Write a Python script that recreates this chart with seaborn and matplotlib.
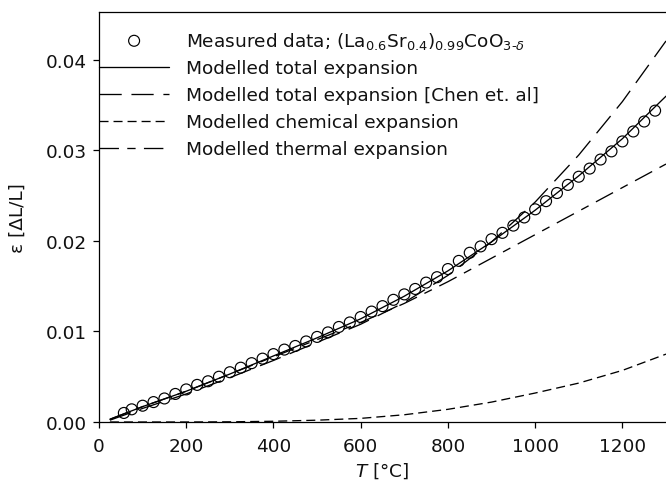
import matplotlib
matplotlib.use("Agg")
import matplotlib.pyplot as plt
import seaborn as sns
import pandas as pd

# ---------------- data ----------------
T_meas = [57, 75, 100, 125, 150, 175, 200, 225, 250, 275, 300, 325, 350, 375, 400,
          425, 450, 475, 500, 525, 550, 575, 600, 625, 650, 675, 700, 725, 750, 775,
          800, 825, 850, 875, 900, 925, 950, 975, 1000, 1025, 1050, 1075, 1100, 1125,
          1150, 1175, 1200, 1225, 1250, 1275]
eps_meas = [0.0010, 0.0014, 0.0018, 0.0022, 0.0026, 0.0031, 0.0036, 0.0041, 0.0045, 0.0050,
            0.0055, 0.0060, 0.0065, 0.0070, 0.0075, 0.0080, 0.0084, 0.0089, 0.0094, 0.0099,
            0.0105, 0.0110, 0.0116, 0.0122, 0.0128, 0.0135, 0.0141, 0.0147, 0.0154, 0.0160,
            0.0169, 0.0178, 0.0187, 0.0194, 0.0202, 0.0209, 0.0217, 0.0226, 0.0235, 0.0244,
            0.0253, 0.0262, 0.0271, 0.0280, 0.0290, 0.0299, 0.0310, 0.0321, 0.0332, 0.0344]

T_model = [25, 100, 200, 300, 400, 500, 600, 700, 800, 900, 1000, 1100, 1200, 1300]
eps_total = [0.0003, 0.0017, 0.0034, 0.0053, 0.0073, 0.0093, 0.0114, 0.0139, 0.0167,
             0.0199, 0.0234, 0.0272, 0.0313, 0.0360]
eps_chen = [0.0002, 0.0015, 0.0031, 0.0049, 0.0068, 0.0088, 0.0108, 0.0132, 0.0162,
            0.0199, 0.0243, 0.0295, 0.0354, 0.0421]
eps_chem = [0.0, 0.0, 0.0, 0.00002, 0.00008, 0.0002, 0.0004, 0.0008, 0.0014,
            0.0022, 0.0032, 0.0043, 0.0057, 0.0075]
eps_therm = [0.0003, 0.0017, 0.0034, 0.0053, 0.0072, 0.0091, 0.0110, 0.0131, 0.0155,
             0.0181, 0.0207, 0.0233, 0.0259, 0.0285]

labels = [r"Measured data; (La$_{0.6}$Sr$_{0.4}$)$_{0.99}$CoO$_{3\text{-}\delta}$",
          "Modelled total expansion",
          "Modelled total expansion [Chen et. al]",
          "Modelled chemical expansion",
          "Modelled thermal expansion"]
x_ticks = [0, 200, 400, 600, 800, 1000, 1200]
y_ticks = [0.00, 0.01, 0.02, 0.03, 0.04]

# ---------------- style ----------------
sns.set_style("ticks")
plt.rcParams['font.family'] = ['DejaVu Sans']
plt.rcParams['mathtext.fontset'] = 'dejavusans'
plt.rcParams['lines.scale_dashes'] = False
plt.rcParams['text.color'] = '#111111'
plt.rcParams['axes.labelcolor'] = '#111111'
FS = 13.3

fig = plt.figure(figsize=(6.66, 4.81), dpi=100)
ax = fig.add_axes([99 / 666, 58 / 481, 567 / 666, 410 / 481])

df_meas = pd.DataFrame({"T": T_meas, "eps": eps_meas})
df_mod = pd.DataFrame({"T": T_model, "total": eps_total, "chen": eps_chen,
                       "chem": eps_chem, "therm": eps_therm})

lw = 0.95
sns.scatterplot(data=df_meas, x="T", y="eps", ax=ax, marker="o", s=62,
                facecolor="none", edgecolor="black", linewidth=0.85,
                label=labels[0], zorder=3)
sns.lineplot(data=df_mod, x="T", y="total", ax=ax, color="black", lw=lw,
             label=labels[1])
sns.lineplot(data=df_mod, x="T", y="chen", ax=ax, color="black", lw=lw,
             linestyle=(0, (16, 7)), label=labels[2])
sns.lineplot(data=df_mod, x="T", y="chem", ax=ax, color="black", lw=lw,
             linestyle=(0, (6.5, 3.6)), label=labels[3])
sns.lineplot(data=df_mod, x="T", y="therm", ax=ax, color="black", lw=lw,
             linestyle=(0, (14, 6, 6, 6)), label=labels[4])

ax.set_xlim(0, 1300)
ax.set_ylim(0, 0.0453)
ax.set_xticks(x_ticks)
ax.set_yticks(y_ticks)
ax.set_yticklabels([f"{v:.2f}" for v in y_ticks])
ax.tick_params(axis="both", direction="out", length=4.5, width=0.9,
               labelsize=FS, colors="black", labelcolor="#111111")
ax.tick_params(axis="y", pad=4)
ax.tick_params(axis="x", pad=6)
for side in ["left", "bottom", "top"]:
    ax.spines[side].set_linewidth(0.9)
    ax.spines[side].set_color("black")
ax.spines["right"].set_visible(False)

ax.set_xlabel(r"$\mathit{T}$ [°C]", fontsize=FS, labelpad=4)
ax.set_ylabel("ε [ΔL/L]", fontsize=FS, labelpad=14)

leg = ax.legend(loc="upper left", bbox_to_anchor=(0.0, 0.957), frameon=False,
                fontsize=FS, handlelength=3.8, handletextpad=0.9,
                labelspacing=0.48, borderpad=0, borderaxespad=0)
for t in leg.get_texts():
    t.set_color("#111111")

fig.savefig("out.png", dpi=100)
